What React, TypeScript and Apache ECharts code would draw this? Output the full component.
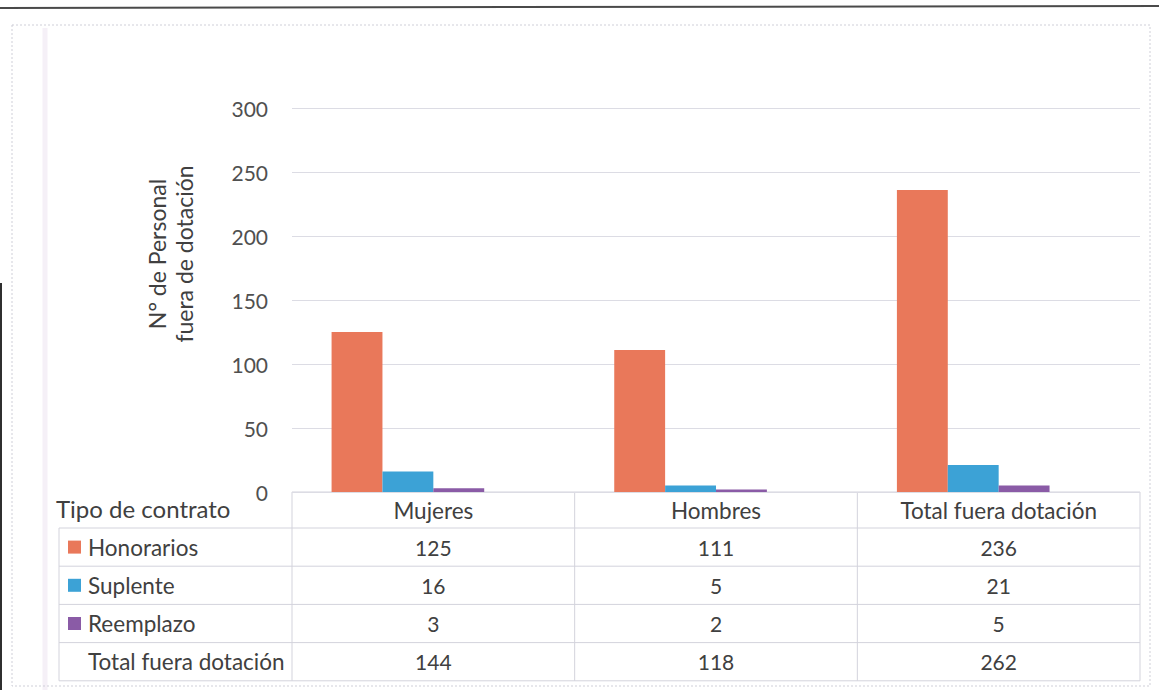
import React, { useEffect, useRef } from "react";
import * as echarts from "echarts";

// Categories (columns of the data table)
const categories = ["Mujeres", "Hombres", "Total fuera dotación"];

// Series values
const honorarios = [125, 111, 236];
const suplente = [16, 5, 21];
const reemplazo = [3, 2, 5];
const totalFuera = [144, 118, 262];

const seriesNames = ["Honorarios", "Suplente", "Reemplazo", "Total fuera dotación"];
const seriesColors = ["#E9785A", "#3CA2D6", "#8A5BA6", "transparent"];

// Y axis
const yTicks = { min: 0, max: 300, interval: 50 };
const yTitle = "N° de Personal\nfuera de dotación";
const tableTitle = "Tipo de contrato";

const W = 1159;
const H = 690;
const FONT = "Lato, 'Open Sans', sans-serif";
const TEXT_SIZE = 22.5;
const NUM_SIZE = 21;

// Plot area
const GRID_L = 292;
const GRID_R = 1140;
const GRID_T = 108;
const GRID_B = 492;

// Data table geometry
const ROW_H = 38.2;
const TABLE_LEFT = 59;
const LINE_COLOR = "#d3d3dc";
const TEXT_COLOR = "#404040";

export default function App() {
  const ref = useRef<HTMLDivElement>(null);

  useEffect(() => {
    if (!ref.current) return;
    const chart = echarts.init(ref.current, undefined, { renderer: "svg" });

    const values = [honorarios, suplente, reemplazo, totalFuera];
    const colW = (GRID_R - GRID_L) / categories.length;
    const headerBottom = GRID_B + 36;
    const rowTop = (i: number) => headerBottom + i * ROW_H;
    const tableBottom = rowTop(values.length);

    const g: any[] = [];

    // scan edges around the page
    g.push({
      type: "line",
      shape: { x1: 0, y1: 8, x2: W, y2: 6 },
      style: { stroke: "#4a4a4a", lineWidth: 2 },
    });
    g.push({
      type: "line",
      shape: { x1: 1, y1: 283, x2: 1, y2: H },
      style: { stroke: "#2f2f2f", lineWidth: 2 },
    });
    g.push({
      type: "line",
      shape: { x1: 45, y1: 28, x2: 45, y2: H },
      style: { stroke: "#f5f0f7", lineWidth: 5 },
    });
    // chart area frame
    g.push({
      type: "rect",
      shape: { x: 12, y: 25, width: 1138, height: 661 },
      style: { fill: "none", stroke: "#cfcfd8", lineWidth: 1, lineDash: [2, 2] },
    });

    // horizontal table lines
    for (let i = 0; i <= values.length; i++) {
      g.push({
        type: "line",
        shape: { x1: TABLE_LEFT, y1: rowTop(i), x2: GRID_R, y2: rowTop(i) },
        style: { stroke: LINE_COLOR, lineWidth: 1 },
      });
    }
    // header top border
    g.push({
      type: "line",
      shape: { x1: GRID_L, y1: GRID_B, x2: GRID_R, y2: GRID_B },
      style: { stroke: LINE_COLOR, lineWidth: 1 },
    });
    // vertical table lines
    g.push({
      type: "line",
      shape: { x1: TABLE_LEFT, y1: headerBottom, x2: TABLE_LEFT, y2: tableBottom },
      style: { stroke: LINE_COLOR, lineWidth: 1 },
    });
    for (let c = 0; c <= categories.length; c++) {
      const x = GRID_L + c * colW;
      g.push({
        type: "line",
        shape: { x1: x, y1: GRID_B, x2: x, y2: tableBottom },
        style: { stroke: LINE_COLOR, lineWidth: 1 },
      });
    }

    // table title
    g.push({
      type: "text",
      x: 56,
      y: GRID_B + 16,
      style: {
        text: tableTitle,
        font: `24px ${FONT}`,
        fill: TEXT_COLOR,
        textAlign: "left",
        textVerticalAlign: "middle",
      },
    });

    // header cells
    categories.forEach((cat, c) => {
      g.push({
        type: "text",
        x: GRID_L + (c + 0.5) * colW,
        y: GRID_B + 18,
        style: {
          text: cat,
          font: `${TEXT_SIZE}px ${FONT}`,
          fill: TEXT_COLOR,
          textAlign: "center",
          textVerticalAlign: "middle",
        },
      });
    });

    // rows: legend key, name, values
    values.forEach((row, r) => {
      const cy = rowTop(r) + ROW_H / 2;
      if (seriesColors[r] !== "transparent") {
        g.push({
          type: "rect",
          shape: { x: 68, y: cy - 6.5, width: 13, height: 13 },
          style: { fill: seriesColors[r] },
        });
      }
      g.push({
        type: "text",
        x: 88,
        y: cy,
        style: {
          text: seriesNames[r],
          font: `${TEXT_SIZE}px ${FONT}`,
          fill: TEXT_COLOR,
          textAlign: "left",
          textVerticalAlign: "middle",
        },
      });
      row.forEach((v, c) => {
        g.push({
          type: "text",
          x: GRID_L + (c + 0.5) * colW,
          y: cy,
          style: {
            text: String(v),
            font: `${NUM_SIZE}px ${FONT}`,
            fill: TEXT_COLOR,
            textAlign: "center",
            textVerticalAlign: "middle",
          },
        });
      });
    });

    // y axis title
    g.push({
      type: "text",
      x: 170,
      y: 254,
      rotation: Math.PI / 2,
      style: {
        text: yTitle,
        font: `23px ${FONT}`,
        fill: TEXT_COLOR,
        textAlign: "center",
        textVerticalAlign: "middle",
        lineHeight: 27,
      },
    });

    chart.setOption({
      animation: false,
      backgroundColor: "#ffffff",
      grid: {
        left: GRID_L,
        right: W - GRID_R,
        top: GRID_T,
        bottom: H - GRID_B,
        containLabel: false,
      },
      xAxis: {
        type: "category",
        data: categories,
        axisLine: { show: false },
        axisTick: { show: false },
        axisLabel: { show: false },
        splitLine: { show: false },
      },
      yAxis: {
        type: "value",
        min: yTicks.min,
        max: yTicks.max,
        interval: yTicks.interval,
        axisLine: { show: false },
        axisTick: { show: false },
        axisLabel: {
          fontSize: NUM_SIZE,
          fontFamily: FONT,
          color: "#505050",
          margin: 24,
        },
        splitLine: { lineStyle: { color: "#dcdce4", width: 1 } },
      },
      series: values.map((data, i) => ({
        type: "bar",
        name: seriesNames[i],
        data,
        barGap: "0%",
        barCategoryGap: "28%",
        itemStyle: { color: seriesColors[i] },
        silent: true,
      })),
      graphic: { elements: g },
    });

    return () => chart.dispose();
  }, []);

  return (
    <div
      ref={ref}
      style={{ position: "fixed", left: 0, top: 0, width: W, height: H, background: "#fff" }}
    />
  );
}
